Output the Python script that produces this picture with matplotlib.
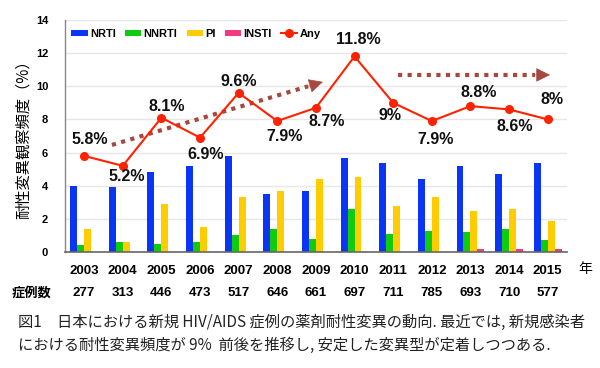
import matplotlib
matplotlib.use("Agg")
import matplotlib.pyplot as plt
import matplotlib.transforms as mtransforms
import numpy as np

years = ["2003", "2004", "2005", "2006", "2007", "2008", "2009",
         "2010", "2011", "2012", "2013", "2014", "2015"]
cases = [277, 313, 446, 473, 517, 646, 661, 697, 711, 785, 693, 710, 577]
nrti = [4.0, 3.9, 4.8, 5.2, 5.8, 3.5, 3.7, 5.7, 5.4, 4.4, 5.2, 4.7, 5.4]
nnrti = [0.4, 0.6, 0.5, 0.6, 1.0, 1.4, 0.8, 2.6, 1.1, 1.3, 1.2, 1.4, 0.7]
pi = [1.4, 0.6, 2.9, 1.5, 3.3, 3.7, 4.4, 4.5, 2.8, 3.3, 2.5, 2.6, 1.9]
insti = [0, 0, 0, 0, 0, 0, 0, 0, 0, 0, 0.2, 0.2, 0.2]
any_ = [5.8, 5.2, 8.1, 6.9, 9.6, 7.9, 8.7, 11.8, 9.0, 7.9, 8.8, 8.6, 8.0]
any_labels = ["5.8%", "5.2%", "8.1%", "6.9%", "9.6%", "7.9%", "8.7%",
              "11.8%", "9%", "7.9%", "8.8%", "8.6%", "8%"]
# label offsets (points) relative to each point
label_dx = [4, 3, 4, 4, 0, 5, 8, 3, -2, 3, 6, 4, 3]
label_dy = [12, -8, 8, -12, 8, -11, -10, 12, -9, -13, 10, -12, 14]

series = [("NRTI", nrti, "#0A35F5"), ("NNRTI", nnrti, "#10CC10"),
          ("PI", pi, "#FFCC00"), ("INSTI", insti, "#F5387F")]

# trend arrows (start x, start y, end x, end y) in data units
arrows = [(0.72, 6.46, 6.18, 10.26), (8.13, 10.68, 12.06, 10.68)]

plt.rcParams['font.family'] = ['Liberation Sans', 'Noto Sans CJK JP', 'DejaVu Sans']

fig = plt.figure(figsize=(6.0, 3.68), dpi=100)
ax = fig.add_axes([0.108, 0.315, 0.837, 0.631])

x = np.arange(len(years))
w = 0.18
offsets = [-0.27, -0.09, 0.09, 0.27]
handles = []
for (name, vals, col), off in zip(series, offsets):
    b = ax.bar(x + off, vals, width=w, color=col, label=name, zorder=2)
    handles.append(b)

ln, = ax.plot(x, any_, color="#FF2200", lw=1.5, marker="o", ms=5.5, label="Any", zorder=4)
handles.append(ln)
for xi, yi, t, dx, dy in zip(x, any_, any_labels, label_dx, label_dy):
    ax.annotate(t, (xi, yi), xytext=(dx, dy), textcoords="offset points",
                ha="center", va="center", fontsize=11.5, fontweight="bold",
                color="#111111", zorder=5)

arrow_col = "#A5483F"
for (x0, y0, x1, y1) in arrows:
    frac = 0.93 if x1 - x0 > 4.5 else 0.9
    xs = x0 + (x1 - x0) * frac
    ys = y0 + (y1 - y0) * frac
    ax.plot([x0, xs], [y0, ys], color=arrow_col, lw=3.0,
            linestyle=(0, (1.0, 1.3)), dash_capstyle="butt", zorder=3)
    ax.annotate("", xy=(x1, y1), xytext=(xs, ys),
                arrowprops=dict(arrowstyle="-|>,head_length=0.9,head_width=0.45",
                                color=arrow_col, lw=0.5, shrinkA=0, shrinkB=0),
                zorder=3)

ax.set_xlim(-0.5, len(years) - 0.5)
ax.set_ylim(0, 14)
ax.set_yticks(range(0, 15, 2))
ax.yaxis.grid(True, color="#E6E6E6", lw=1.0, zorder=0)
ax.set_axisbelow(True)
for s in ["top", "right"]:
    ax.spines[s].set_visible(False)
ax.spines["left"].set_color("#888888")
ax.spines["bottom"].set_color("#666666")
ax.spines["left"].set_linewidth(1.0)
ax.spines["bottom"].set_linewidth(1.2)
ax.tick_params(axis="y", length=0, pad=12, labelsize=8, width=0)
ax.tick_params(axis="x", length=0, pad=9, labelsize=9.5)
for lab in ax.get_yticklabels():
    lab.set_fontweight("bold")
ax.set_xticks(x)
ax.set_xticklabels(years, fontweight="bold")

ax.set_ylabel("耐性変異観察頻度（%）", fontsize=11, family=['Noto Sans CJK JP'], labelpad=3)

trans = mtransforms.blended_transform_factory(ax.transData, fig.transFigure)
for xi, c in zip(x, cases):
    ax.text(xi, 1 - 293 / 368, str(c), transform=trans, ha="center", va="center",
            fontsize=9.5, fontweight="bold")
fig.text(12 / 600, 1 - 293 / 368, "症例数", ha="left", va="center", fontsize=9.5,
         fontweight="bold", family=['Noto Sans CJK JP'])
fig.text(585 / 600, 1 - 269 / 368, "年", ha="center", va="center", fontsize=10,
         family=['Noto Sans CJK JP'])

leg = ax.legend(handles=handles, loc="upper left", bbox_to_anchor=(0.0, 0.99), ncol=5,
                frameon=False, fontsize=8, handlelength=1.45, handleheight=0.5,
                handletextpad=0.2, columnspacing=0.85, borderaxespad=0.2)
for t in leg.get_texts():
    t.set_fontweight("bold")

cap1 = "図1　日本における新規 HIV/AIDS 症例の薬剤耐性変異の動向. 最近では, 新規感染者"
cap2 = "における耐性変異頻度が 9%  前後を推移し, 安定した変異型が定着しつつある."
fig.text(18 / 600, 1 - 322 / 368, cap1, ha="left", va="center", fontsize=11,
         family=['Noto Sans CJK JP'], color="#222222")
fig.text(18 / 600, 1 - 345 / 368, cap2, ha="left", va="center", fontsize=11,
         family=['Noto Sans CJK JP'], color="#222222")

fig.savefig("out.png", dpi=100)
